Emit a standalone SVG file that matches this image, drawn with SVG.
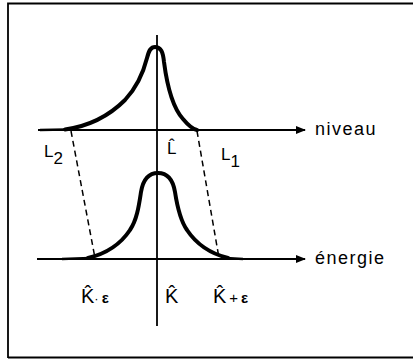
<svg xmlns="http://www.w3.org/2000/svg" width="413" height="359" viewBox="0 0 413 359">
<style>
.ax{stroke:#000;stroke-width:1.8;fill:none}
.curve{stroke:#000;stroke-width:4;fill:none;stroke-linecap:round;stroke-linejoin:round}
.dash{stroke:#000;stroke-width:1.5;fill:none;stroke-dasharray:6 4}
text{font-family:"Liberation Sans",Arial,sans-serif;fill:#000}
.lbl{font-size:18px;letter-spacing:1.5px}
.l{font-size:17px}
.k{font-size:20px}
</style>
<defs>
<marker id="arr" markerWidth="10" markerHeight="8" refX="9" refY="4" orient="auto" markerUnits="userSpaceOnUse">
<path d="M0,0 L10,4 L0,8 Z" fill="#000"/>
</marker>
</defs>
<rect width="413" height="359" fill="#fff"/>
<g id="frame">
<path class="ax" d="M8,358 L8,3.5 L413,3.5 M8,357.5 L413,357.5" stroke-width="2"/>
</g>
<g id="connectors">
<line class="ax" x1="38" y1="130" x2="305" y2="130" marker-end="url(#arr)"/>
<line class="ax" x1="37" y1="259" x2="305" y2="259" marker-end="url(#arr)"/>
<line class="ax" x1="157" y1="35" x2="157" y2="326"/>
<line class="dash" x1="71" y1="131" x2="95" y2="258"/>
<line class="dash" x1="197" y1="131" x2="219" y2="258"/>
</g>
<g id="top-curve">
<path class="curve" d="M65,129.5 C90,126 110,115 125,100 C138,86 144,70 147,58 C149,50 151,47 155,47 C161,47 163,52 164,62 C167,85 173,108 183,119 C188,125 192,129 197,130"/>
<path d="M40,130 L66,129.5" stroke="#000" stroke-width="2.5" fill="none"/>
</g>
<g id="bottom-curve">
<path class="curve" d="M88,258 C105,254 120,245 130,230 C137,220 139,205 141,192 C143,180 148,173 158,173 C168,173 173,180 175,192 C177,205 180,220 187,230 C197,245 212,254 228,258"/>
<path d="M62,259 L90,258 M226,258 L243,259" stroke="#000" stroke-width="2.5" fill="none"/>
</g>
<g id="labels">
<text class="lbl" x="315" y="135">niveau</text>
<text class="lbl" x="315" y="264">énergie</text>
<text class="l" x="44" y="157">L<tspan dy="7">2</tspan></text>
<text class="l" x="167" y="154">L&#770;</text>
<text class="l" x="221" y="160">L<tspan dy="7">1</tspan></text>
<text class="k" x="81" y="303">K&#770;<tspan font-size="13">·</tspan><tspan font-weight="bold" font-size="15" dx="3">ε</tspan></text>
<text class="k" x="165" y="303">K&#770;</text>
<text class="k" x="213" y="303">K&#770;<tspan font-size="15" dx="3">+</tspan><tspan font-weight="bold" font-size="15" dx="3">ε</tspan></text>
</g>
</svg>
